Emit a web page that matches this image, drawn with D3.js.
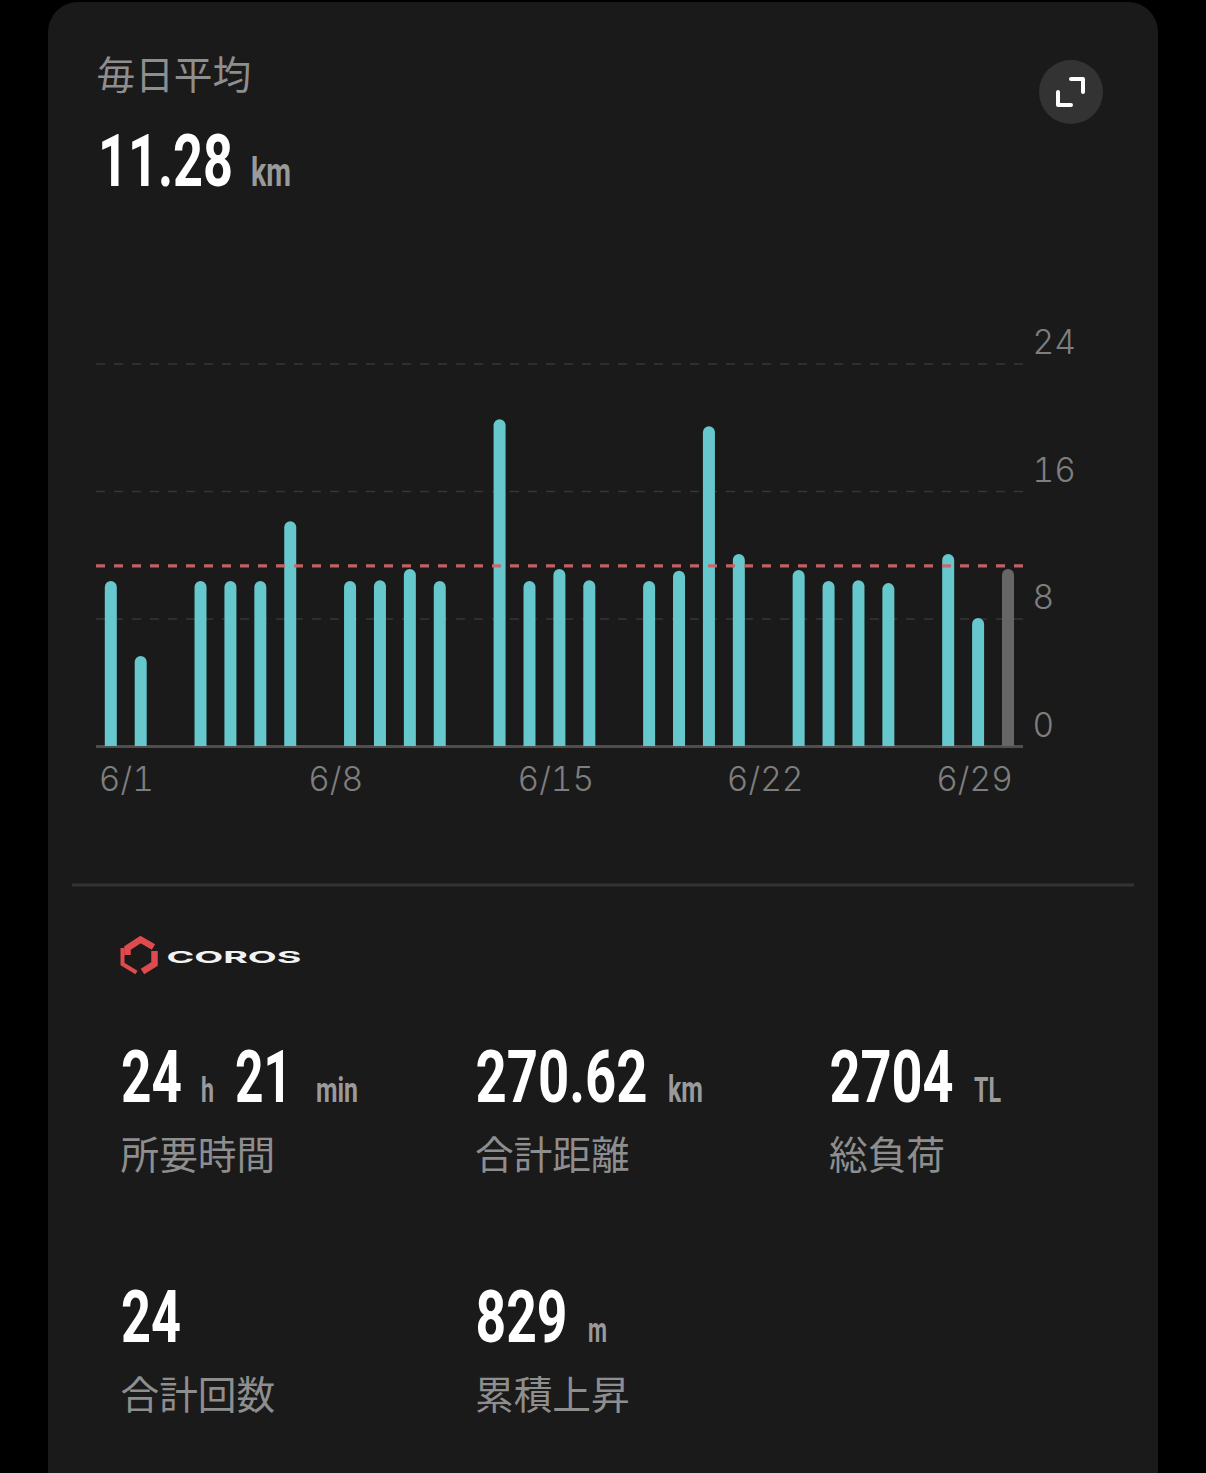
<!DOCTYPE html>
<html lang="ja"><head><meta charset="utf-8">
<script src="https://cdn.jsdelivr.net/npm/d3@7/dist/d3.min.js"></script>
<style>html,body{margin:0;padding:0;background:#000;overflow:hidden}svg{display:block}</style>
</head><body><svg id="c" width="1206" height="1473"></svg>
<script>
const dayLabels = ["6/1","6/2","6/3","6/4","6/5","6/6","6/7","6/8","6/9","6/10","6/11","6/12","6/13","6/14","6/15","6/16","6/17","6/18","6/19","6/20","6/21","6/22","6/23","6/24","6/25","6/26","6/27","6/28","6/29","6/30","7/1"];
const distanceKm = [10.35,5.65,0,10.35,10.35,10.35,14.1,0,10.35,10.4,11.1,10.35,0,20.5,10.35,11.1,10.4,0,10.35,11.0,20.07,12.04,0,11.04,10.35,10.4,10.22,0,12.04,8.03,0];
const currentDayKm = [0,0,0,0,0,0,0,0,0,0,0,0,0,0,0,0,0,0,0,0,0,0,0,0,0,0,0,0,0,0,11.1];
const xTickLabels = ["6/1","6/8","6/15","6/22","6/29"];
const yTicks = [0,8,16,24];
const averageKm = 11.28;
const statNumbers = ["24","21","270.62","2704","24","829"];
const statUnits = ["h","min","km","TL","m"];
const statLabels = ["所要時間","合計距離","総負荷","合計回数","累積上昇"];

const svg = d3.select("#c");
const NUM = "Roboto,'Liberation Sans',sans-serif";
const CJK = "'Noto Sans CJK JP',sans-serif";
const TICK = "Inter,'Liberation Sans',sans-serif";

svg.append("rect").attr("x",48).attr("y",2).attr("width",1110).attr("height",1520).attr("rx",30).attr("fill","#1a1a1b");

const x = d3.scalePoint().domain(dayLabels).range([110.8,1008]);
const y = d3.scaleLinear().domain([0,24]).range([746,363.5]);
const L=96, R=1023, BW=12;

const gy = svg.append("g").attr("transform",`translate(${R},0)`)
  .call(d3.axisLeft(y).tickValues(yTicks).tickSize(R-L).tickFormat(""));
gy.select(".domain").remove();
gy.selectAll("line").attr("stroke","#363637").attr("stroke-width",1.5).attr("stroke-dasharray","9 9")
  .filter(d=>d===0).attr("stroke","#4e4e4e").attr("stroke-width",3).attr("stroke-dasharray",null);
const gyL = svg.append("g").attr("transform","translate(1032.5,-10)")
  .call(d3.axisRight(y).tickValues(yTicks).tickSize(0).tickPadding(0));
gyL.select(".domain").remove();
gyL.selectAll("text").attr("font-family",TICK).attr("font-weight",300).attr("font-size",33.5).attr("fill","#7e7e7e").attr("dy","0").attr("x",0).attr("y",0).style("font-variant-numeric","tabular-nums");

const barPath = v => {
  const t=y(v), b=y(0), r=BW/2;
  return `M${-r},${b}V${t+r}A${r},${r} 0 0 1 ${r},${t+r}V${b}Z`;
};
function bars(values,color){
  svg.append("g").selectAll("path").data(values.map((v,i)=>({v,d:dayLabels[i]})).filter(d=>d.v>0)).join("path")
    .attr("transform",d=>`translate(${x(d.d)},0)`).attr("d",d=>barPath(d.v)).attr("fill",color);
}
bars(distanceKm,"#66c7cc");
bars(currentDayKm,"#666666");

svg.append("line").attr("x1",L).attr("x2",R).attr("y1",y(averageKm)-.4).attr("y2",y(averageKm)-.4)
  .attr("stroke","#cc6466").attr("stroke-width",3.4).attr("stroke-dasharray","9 9").attr("stroke-opacity",.95);

const gx = svg.append("g").attr("transform","translate(0,791)")
  .call(d3.axisBottom(x).tickValues(xTickLabels).tickSize(0).tickPadding(0));
gx.select(".domain").remove();
gx.selectAll("text").attr("font-family",TICK).attr("font-weight",300).attr("font-size",33.5).attr("fill","#7e7e7e")
  .attr("text-anchor","start").attr("dx",-12.5).attr("y",0).attr("dy",0).style("font-variant-numeric","tabular-nums");

function txt(s,x0,yb,size,fill,family,weight,len){
  const t=svg.append("text").attr("font-size",size).attr("fill",fill)
    .attr("font-family",family).attr("font-weight",weight||400).text(s);
  const sx = len ? len/t.node().getComputedTextLength() : 1;
  t.attr("transform",`translate(${x0},${yb}) scale(${sx},1)`);
  return t;
}
txt("毎日平均",96.5,89,38.7,"#8e8e8e",CJK,400);
txt("11.28",98,186,73,"#ffffff",NUM,700,135);
txt("km",251,186,40,"#9a9a9a",NUM,700,40);

svg.append("circle").attr("cx",1071).attr("cy",92).attr("r",32).attr("fill","#333334");
svg.append("path").attr("d","M1071,79H1083V92M1058,92V105H1071").attr("fill","none").attr("stroke","#fff").attr("stroke-width",4).attr("stroke-linecap","round").attr("stroke-linejoin","round");

svg.append("line").attr("x1",72).attr("x2",1134).attr("y1",885).attr("y2",885).attr("stroke","#333334").attr("stroke-width",3);

const logo=svg.append("g").attr("transform","translate(139.5,956)").attr("fill","none").attr("stroke","#df4a4e").attr("stroke-linejoin","miter");
logo.append("path").attr("stroke-width",6.5).attr("d","M-12,-1V-8L1,-16.5L14,-9");
logo.append("path").attr("stroke-width",6.5).attr("d","M15,-5V8L3,15.5");
logo.append("path").attr("stroke-width",4).attr("d","M-17,-8V8L-3,16.5");
txt("COROS",166.5,963.3,16.5,"#f2f2f2","Inter,sans-serif",700,135);

const C1=121,C2=476,C3=830;
const W="#ffffff",G="#9a9a9a";
txt(statNumbers[0],C1,1102,73,W,NUM,700,61);
txt(statUnits[0],201,1102,36,G,NUM,700,13);
txt(statNumbers[1],235,1102,73,W,NUM,700,57);
txt(statUnits[1],316,1102,36,G,NUM,700,42);
txt(statNumbers[2],C2-.5,1102,73,W,NUM,700,172);
txt(statUnits[2],668,1102,36,G,NUM,700,35);
txt(statNumbers[3],C3-.5,1102,73,W,NUM,700,124);
txt(statUnits[3],974,1102,36,G,NUM,700,27);
txt(statLabels[0],C1-.5,1169,38.7,"#8e8e8e",CJK);
txt(statLabels[1],C2-1,1169,38.7,"#8e8e8e",CJK);
txt(statLabels[2],C3-1,1169,38.7,"#8e8e8e",CJK);
txt(statNumbers[4],C1,1342,73,W,NUM,700,60);
txt(statNumbers[5],C2-.5,1342,73,W,NUM,700,92);
txt(statUnits[4],588,1342,36,G,NUM,700,19);
txt(statLabels[3],C1-.5,1409,38.7,"#8e8e8e",CJK);
txt(statLabels[4],C2-1,1409,38.7,"#8e8e8e",CJK);
</script></body></html>
